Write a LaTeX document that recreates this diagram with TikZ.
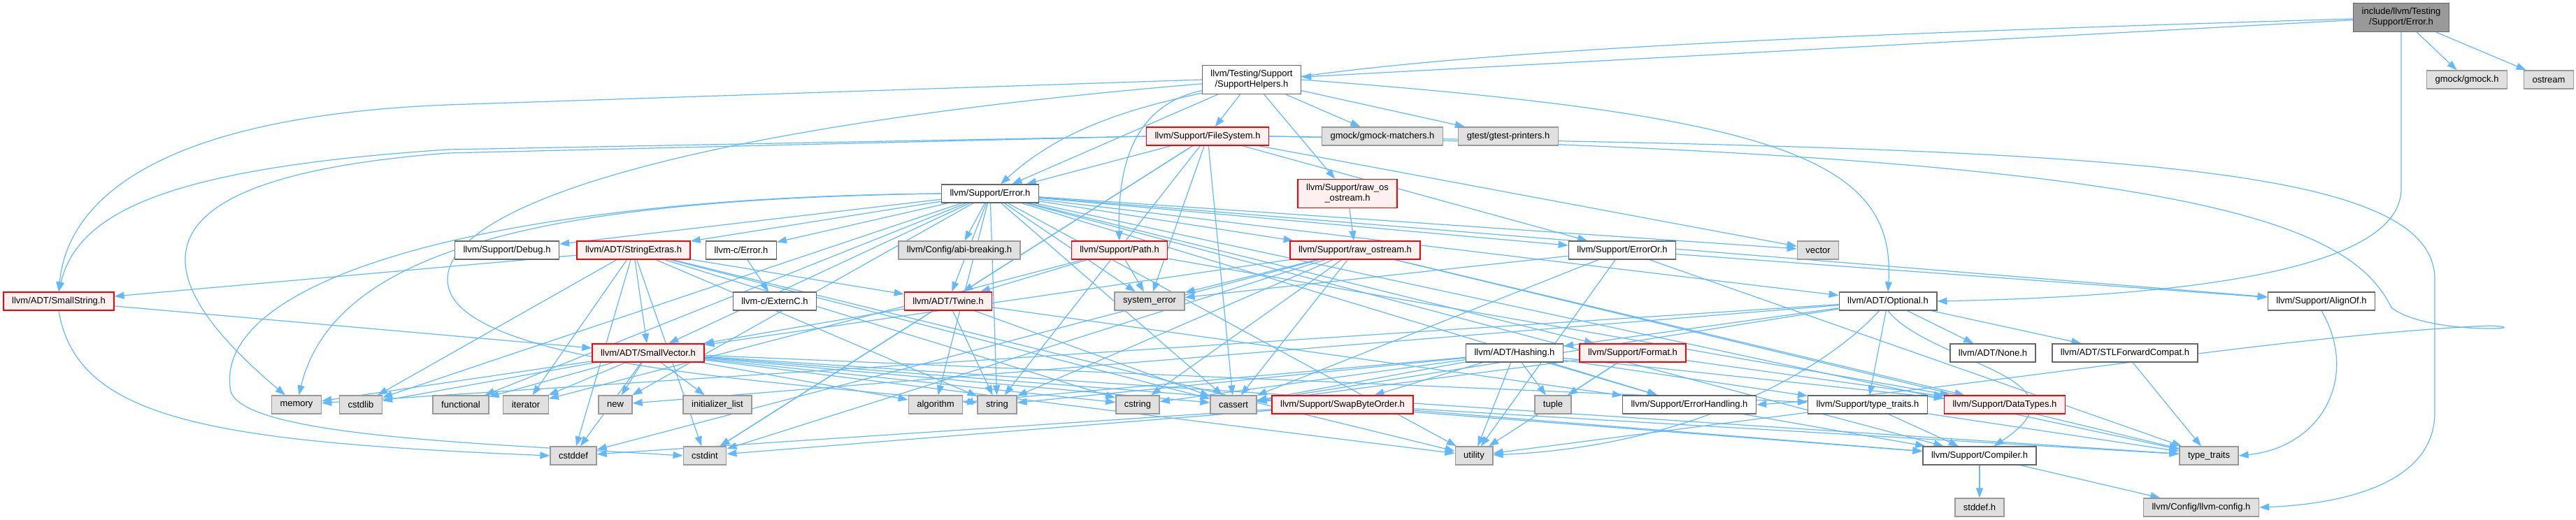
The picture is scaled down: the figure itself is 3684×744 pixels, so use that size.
\documentclass[tikz,border=0pt]{standalone}
\usepackage{fontspec}
\setmainfont{Liberation Sans}
\usepackage{xcolor}
\usepackage{tikz}
\usetikzlibrary{arrows.meta,positioning}

\definecolor{edgeblue}{HTML}{63B8FF}
\definecolor{boxgray}{HTML}{E0E0E0}
\definecolor{linegray}{HTML}{999999}
\definecolor{linedark}{HTML}{666666}
\definecolor{boxred}{HTML}{FFF0F0}
\definecolor{rootgray}{HTML}{999999}
\pgfdeclarelayer{bg}
\pgfsetlayers{bg,main}

\begin{document}
\begin{tikzpicture}[
    x=1pt, y=-1pt,
    hdr/.style={draw, line width=1.4pt, minimum height=26pt, inner xsep=12pt, inner ysep=0pt, font=\fontsize{13}{15}\selectfont},
    sysbox/.style={hdr, fill=boxgray, draw=linegray},
    docbox/.style={hdr, fill=white, draw=linedark},
    cutbox/.style={hdr, fill=boxred, draw=red},
    rootbox/.style={hdr, fill=rootgray, draw=linedark},
    twoline/.style={minimum height=41pt, align=center},
    arr/.style={-{Triangle[length=14pt,width=10pt]}, edgeblue, line width=1.2pt}
]
\useasboundingbox (0,0) rectangle (3684,744);

% rows of the include graph
\node[rootbox, twoline] (root) at (3434,25) {include/llvm/Testing\\/Support/Error.h};
\node[sysbox] (gmock) at (3528,114) {gmock/gmock.h};
\node[sysbox] (ostream) at (3645,114) {ostream};
\node[docbox, twoline] (helpers) at (1790,114) {llvm/Testing/Support\\/SupportHelpers.h};

\node[cutbox] (filesys) at (1727,195) {llvm/Support/FileSystem.h};
\node[sysbox] (gmatch) at (1977,195) {gmock/gmock-matchers.h};
\node[sysbox] (gprint) at (2157,195) {gtest/gtest-printers.h};

\node[docbox] (error) at (1416,277) {llvm/Support/Error.h};
\node[cutbox, twoline] (rawos) at (1927,277) {llvm/Support/raw\_os\\\_ostream.h};

\node[docbox] (debug) at (725,358) {llvm/Support/Debug.h};
\node[cutbox] (strext) at (906,358) {llvm/ADT/StringExtras.h};
\node[docbox] (cerror) at (1060,358) {llvm-c/Error.h};
\node[sysbox] (abi) at (1372,358) {llvm/Config/abi-breaking.h};
\node[cutbox] (path) at (1601,358) {llvm/Support/Path.h};
\node[cutbox] (rawo) at (1938,358) {llvm/Support/raw\_ostream.h};
\node[docbox] (erroror) at (2320,358) {llvm/Support/ErrorOr.h};
\node[sysbox] (vector) at (2600,358) {vector};

\node[cutbox] (smallstr) at (84,431) {llvm/ADT/SmallString.h};
\node[docbox] (externc) at (1108,431) {llvm-c/ExternC.h};
\node[cutbox] (twine) at (1356,431) {llvm/ADT/Twine.h};
\node[sysbox] (syserr) at (1644,431) {system\_error};
\node[docbox] (optional) at (2700,431) {llvm/ADT/Optional.h};
\node[docbox] (alignof) at (3320,431) {llvm/Support/AlignOf.h};

\node[cutbox] (smallvec) at (927,505) {llvm/ADT/SmallVector.h};
\node[docbox] (hashing) at (2166,505) {llvm/ADT/Hashing.h};
\node[cutbox] (format) at (2335,505) {llvm/Support/Format.h};
\node[docbox] (none) at (2850,505) {llvm/ADT/None.h};
\node[docbox] (stlfwd) at (3039,505) {llvm/ADT/STLForwardCompat.h};

\node[sysbox] (memory) at (424,579) {memory};
\node[sysbox] (cstdlib) at (516,579) {cstdlib};
\node[sysbox] (functional) at (659,579) {functional};
\node[sysbox] (iterator) at (752,579) {iterator};
\node[sysbox] (new) at (880,579) {new};
\node[sysbox] (initlist) at (1026,579) {initializer\_list};
\node[sysbox] (algorithm) at (1338,579) {algorithm};
\node[sysbox] (string) at (1426,579) {string};
\node[sysbox] (cstring) at (1627,579) {cstring};
\node[sysbox] (cassert) at (1764,579) {cassert};
\node[cutbox] (swapbyte) at (1920,579) {llvm/Support/SwapByteOrder.h};
\node[sysbox] (tuple) at (2221,579) {tuple};
\node[docbox] (errhand) at (2416,579) {llvm/Support/ErrorHandling.h};
\node[docbox] (typetr) at (2671,579) {llvm/Support/type\_traits.h};
\node[cutbox] (datatypes) at (2867,579) {llvm/Support/DataTypes.h};

\node[sysbox] (cstddef) at (820,652) {cstddef};
\node[sysbox] (cstdint) at (1008,652) {cstdint};
\node[sysbox] (utility) at (2108,652) {utility};
\node[docbox] (compiler) at (2831,652) {llvm/Support/Compiler.h};
\node[sysbox] (stdtypetr) at (3159,652) {type\_traits};

\node[sysbox] (stddefh) at (2831,726) {stddef.h};
\node[sysbox] (llvmconfig) at (3148,726) {llvm/Config/llvm-config.h};

\begin{pgfonlayer}{bg}
\fill[white] (0,0) rectangle (3684,744);

% include/llvm/Testing/Support/Error.h
\draw[arr] (root) -- (gmock);
\draw[arr] (root) -- (ostream);
\draw[arr] (root) -- (helpers);
\draw[arr] (root) .. controls (1900,70) and (1600,110) .. (error);
\draw[arr] (root.south) -- (3434,270) .. controls (3434,400) and (3050,425) .. (optional.east);

% SupportHelpers.h
\draw[arr] (helpers) -- (filesys);
\draw[arr] (helpers) -- (gmatch);
\draw[arr] (helpers) -- (gprint);
\draw[arr] (helpers) -- (rawos);
\draw[arr] (helpers) -- (error);
\draw[arr] (helpers.west) -- (640,150) .. controls (200,168) and (95,300) .. (smallstr.north);
\draw[arr] (helpers) .. controls (1625,150) and (1598,230) .. (path);
\draw[arr] (helpers.east) .. controls (2550,165) and (2712,230) .. (optional.north);
\draw[arr] (helpers) .. controls (1000,180) and (640,290) .. (640,400) .. controls (640,520) and (1100,545) .. (string);

% FileSystem.h
\draw[arr] (filesys.west) -- (640,214) .. controls (250,240) and (112,300) .. (smallstr.north);
\draw[arr] (filesys.west) -- (640,219) .. controls (180,255) and (200,390) .. (memory);
\draw[arr] (filesys) -- (error);
\draw[arr] (filesys) -- (twine);
\draw[arr] (filesys) -- (erroror);
\draw[arr] (filesys) -- (cassert);
\draw[arr] (filesys) -- (cstdint);
\draw[arr] (filesys) -- (string);
\draw[arr] (filesys) -- (syserr);
\draw[arr] (filesys) -- (vector);
\draw[arr] (filesys.east) .. controls (3000,212) and (3482,230) .. (3482,400) -- (3482,590) .. controls (3482,700) and (3330,722) .. (llvmconfig.east);
\draw[arr] (filesys.east) .. controls (3150,222) and (3360,320) .. (3420,440) .. controls (3470,480) and (3640,470) .. (3560,466) .. controls (3250,480) and (2800,560) .. (errhand.east);

% Error.h
\draw[arr] (error) -- (debug);
\draw[arr] (error) -- (strext);
\draw[arr] (error) -- (cerror);
\draw[arr] (error) -- (abi);
\draw[arr] (error) -- (rawo);
\draw[arr] (error) -- (erroror);
\draw[arr] (error) -- (vector);
\draw[arr] (error) -- (twine);
\draw[arr] (error) -- (syserr);
\draw[arr] (error) -- (optional);
\draw[arr] (error) -- (alignof);
\draw[arr] (error) -- (smallvec);
\draw[arr] (error) -- (format);
\draw[arr] (error) -- (errhand);
\draw[arr] (error) -- (compiler);
\draw[arr] (error) -- (stdtypetr);
\draw[arr] (error) -- (utility);
\draw[arr] (error) -- (algorithm);
\draw[arr] (error) -- (string);
\draw[arr] (error) -- (cassert);
\draw[arr] (error) -- (cstdlib);
\draw[arr] (error) -- (functional);
\draw[arr] (error) -- (new);
\draw[arr] (error.west) .. controls (800,285) and (480,350) .. (memory);
\draw[arr] (error.west) .. controls (700,282) and (300,400) .. (330,560) .. controls (350,625) and (700,635) .. (cstdint.west);

% raw_os_ostream.h, Path.h, llvm-c/Error.h
\draw[arr] (rawos) -- (rawo);
\draw[arr] (path) -- (twine);
\draw[arr] (path) -- (syserr);
\draw[arr] (path) -- (iterator);
\draw[arr] (path) -- (datatypes);
\draw[arr] (cerror) -- (externc);

% StringExtras.h
\draw[arr] (strext) -- (smallstr);
\draw[arr] (strext) -- (twine);
\draw[arr] (strext) -- (smallvec);
\draw[arr] (strext) -- (cassert);
\draw[arr] (strext) -- (cstddef);
\draw[arr] (strext) -- (cstdint);
\draw[arr] (strext) -- (cstdlib);
\draw[arr] (strext) -- (cstring);
\draw[arr] (strext) -- (iterator);
\draw[arr] (strext) -- (string);
\draw[arr] (strext) -- (utility);

% SmallString.h, Twine.h
\draw[arr] (smallstr) -- (smallvec);
\draw[arr] (smallstr.south) .. controls (110,600) and (300,632) .. (cstddef.west);
\draw[arr] (twine) -- (smallvec);
\draw[arr] (twine) -- (errhand);
\draw[arr] (twine) -- (cassert);
\draw[arr] (twine) -- (cstdint);
\draw[arr] (twine) -- (string);

% raw_ostream.h
\draw[arr] (rawo) -- (smallvec);
\draw[arr] (rawo) -- (datatypes);
\draw[arr] (rawo) -- (cassert);
\draw[arr] (rawo) -- (cstddef);
\draw[arr] (rawo) -- (cstdint);
\draw[arr] (rawo) -- (cstring);
\draw[arr] (rawo) -- (string);
\draw[arr] (rawo) -- (syserr);
\draw[arr] (rawo) -- (stdtypetr);

% ErrorOr.h, AlignOf.h
\draw[arr] (erroror) -- (alignof);
\draw[arr] (erroror) -- (cassert);
\draw[arr] (erroror) -- (syserr);
\draw[arr] (erroror) -- (stdtypetr);
\draw[arr] (erroror) -- (utility);
\draw[arr] (alignof.south) .. controls (3375,540) and (3320,640) .. (stdtypetr.east);

% Optional.h
\draw[arr] (optional) -- (hashing);
\draw[arr] (optional) -- (none);
\draw[arr] (optional) -- (stlfwd);
\draw[arr] (optional) -- (typetr);
\draw[arr] (optional) -- (cassert);
\draw[arr] (optional) -- (memory);
\draw[arr] (optional) -- (new);
\draw[arr] (optional) .. controls (2600,540) and (2400,640) .. (utility);
\draw[arr] (optional.south) .. controls (2760,520) and (3000,540) .. (compiler);

% SmallVector.h
\draw[arr] (smallvec) -- (typetr);
\draw[arr] (smallvec) -- (compiler);
\draw[arr] (smallvec) -- (algorithm);
\draw[arr] (smallvec) -- (cassert);
\draw[arr] (smallvec) -- (cstddef);
\draw[arr] (smallvec) -- (cstdlib);
\draw[arr] (smallvec) -- (cstring);
\draw[arr] (smallvec) -- (functional);
\draw[arr] (smallvec) -- (initlist);
\draw[arr] (smallvec) -- (iterator);
\draw[arr] (smallvec) -- (memory);
\draw[arr] (smallvec) -- (new);
\draw[arr] (smallvec) -- (stdtypetr);
\draw[arr] (smallvec) -- (utility);

% Hashing.h, Format.h
\draw[arr] (hashing) -- (datatypes);
\draw[arr] (hashing) -- (errhand);
\draw[arr] (hashing) -- (swapbyte);
\draw[arr] (hashing) -- (typetr);
\draw[arr] (hashing) -- (algorithm);
\draw[arr] (hashing) -- (cassert);
\draw[arr] (hashing) -- (cstring);
\draw[arr] (hashing) -- (string);
\draw[arr] (hashing) -- (tuple);
\draw[arr] (hashing) -- (utility);
\draw[arr] (format) -- (datatypes);
\draw[arr] (format) -- (cassert);
\draw[arr] (format) -- (tuple);
\draw[arr] (format) -- (utility);

% lower helpers
\draw[arr] (stlfwd) -- (stdtypetr);
\draw[arr] (swapbyte) -- (compiler);
\draw[arr] (swapbyte) -- (cstddef);
\draw[arr] (swapbyte) -- (cstdint);
\draw[arr] (swapbyte) -- (stdtypetr);
\draw[arr] (errhand) -- (compiler);
\draw[arr] (typetr) -- (compiler);
\draw[arr] (typetr) -- (stdtypetr);
\draw[arr] (typetr) -- (utility);
\draw[arr] (compiler) -- (stddefh);
\draw[arr] (compiler) -- (llvmconfig);
\end{pgfonlayer}
\end{tikzpicture}
\end{document}
